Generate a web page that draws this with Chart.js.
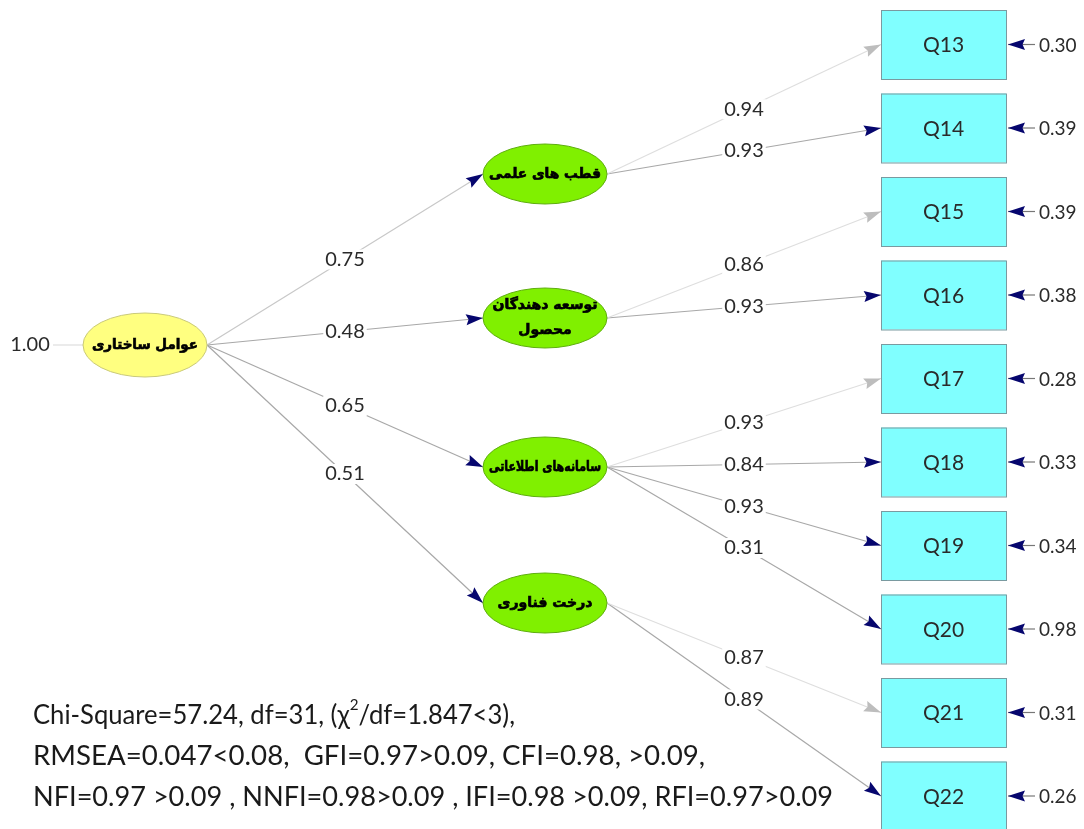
<!DOCTYPE html>
<html lang="fa">
<head>
  <meta charset="UTF-8" />
  <title>Path diagram</title>
  <script src="https://cdn.jsdelivr.net/npm/chart.js"></script>
  <style>
    body { margin: 0; background: #fff; }
    canvas { display: block; }
  </style>
</head>
<body>
  <canvas id="pathChart" width="1084" height="829"></canvas>

  <script>
    // ---- data ----
    const rootName = "عوامل ساختاری";
    const rootVariance = 1.00;
    const factorNames = [["قطب های علمی"], ["توسعه دهندگان", "محصول"], ["سامانه‌های اطلاعاتی"], ["درخت فناوری"]];
    const structuralLoadings = [0.75, 0.48, 0.65, 0.51];
    const indicatorNames = ["Q13", "Q14", "Q15", "Q16", "Q17", "Q18", "Q19", "Q20", "Q21", "Q22"];
    const indicatorFactor = [0, 0, 1, 1, 2, 2, 2, 2, 3, 3];
    const factorLoadings = [0.94, 0.93, 0.86, 0.93, 0.93, 0.84, 0.93, 0.31, 0.87, 0.89];
    const errorVariances = [0.30, 0.39, 0.39, 0.38, 0.28, 0.33, 0.34, 0.98, 0.31, 0.26];
    const fixedLoading = [true, false, true, false, true, false, false, false, true, false];
    const fitLines = [
      "Chi-Square=57.24, df=31, (χ|2|/df=1.847<3),",
      "RMSEA=0.047<0.08,  GFI=0.97>0.09, CFI=0.98, >0.09,",
      "NFI=0.97 >0.09 , NNFI=0.98>0.09 , IFI=0.98 >0.09, RFI=0.97>0.09"
    ];

    // ---- layout (diagram units = pixels of the reference) ----
    const root = { x: 145, y: 345, rx: 62, ry: 32 };
    const factorX = 545, factorRx = 62, factorRy = 30;
    const factorY = [174, 318, 467, 603];
    const boxLeft = 881, boxW = 125, boxH = 69, boxTop = 10, boxStep = 83.5;
    const fitX = 33, fitY = [715, 756, 797], fitW = [482, 672, 800];

    const NAVY = "#06066e";
    const LIGHT = "#dedede";
    const DARK = "#a8a8a8";
    const FONT = "Lato, 'Open Sans', sans-serif";

    const boxCY = i => boxTop + boxStep * i + boxH / 2;

    // path list built from the arrays above
    const paths = [];
    structuralLoadings.forEach((v, k) => {
      paths.push({
        from: { x: root.x + root.rx, y: root.y },
        to: { x: factorX - factorRx, y: factorY[k] },
        value: v, color: k === 0 ? "#c8c8c8" : DARK, head: NAVY
      });
    });
    factorLoadings.forEach((v, i) => {
      const f = indicatorFactor[i];
      paths.push({
        from: { x: factorX + factorRx, y: factorY[f] },
        to: { x: boxLeft, y: boxCY(i) },
        value: v,
        color: fixedLoading[i] ? LIGHT : DARK,
        head: fixedLoading[i] ? "#bdbdbd" : NAVY
      });
    });

    const datasets = paths.map(p => ({
      type: "line",
      data: [p.from, p.to],
      borderColor: p.color,
      borderWidth: 1.2,
      pointRadius: 0,
      showLine: true
    }));
    // variance line of the root factor
    datasets.push({
      type: "line",
      data: [{ x: 53, y: root.y }, { x: root.x - root.rx, y: root.y }],
      borderColor: LIGHT, borderWidth: 1.2, pointRadius: 0, showLine: true
    });
    // error arrows of the indicators
    indicatorNames.forEach((n, i) => {
      datasets.push({
        type: "line",
        data: [{ x: 1035, y: boxCY(i) }, { x: boxLeft + boxW + 2, y: boxCY(i) }],
        borderColor: "#777", borderWidth: 1.2, pointRadius: 0, showLine: true
      });
    });

    function arrowHead(ctx, x1, y1, x2, y2, color) {
      const a = Math.atan2(y2 - y1, x2 - x1);
      const len = 17, half = 5.5;
      ctx.save();
      ctx.translate(x2, y2);
      ctx.rotate(a);
      ctx.beginPath();
      ctx.moveTo(0, 0);
      ctx.lineTo(-len, -half);
      ctx.lineTo(-len + 2.5, 0);
      ctx.lineTo(-len, half);
      ctx.closePath();
      ctx.fillStyle = color;
      ctx.fill();
      ctx.restore();
    }

    function ellipse(ctx, x, y, rx, ry, fill, stroke) {
      ctx.beginPath();
      ctx.ellipse(x, y, rx, ry, 0, 0, Math.PI * 2);
      ctx.fillStyle = fill;
      ctx.fill();
      ctx.lineWidth = 1;
      ctx.strokeStyle = stroke;
      ctx.stroke();
    }

    function persianText(ctx, lines, x, y, maxW) {
      ctx.save();
      ctx.direction = "rtl";
      ctx.font = "bold 14px 'DejaVu Sans'";
      ctx.fillStyle = "#000";
      ctx.strokeStyle = "#000";
      ctx.lineWidth = 0.7;
      ctx.textAlign = "center";
      ctx.textBaseline = "middle";
      const lh = 25;
      lines.forEach((l, k) => {
        const ly = y + (k - (lines.length - 1) / 2) * lh;
        ctx.fillText(l, x, ly, maxW);
        ctx.strokeText(l, x, ly, maxW);
      });
      ctx.restore();
    }

    function label(ctx, text, x, y, size) {
      ctx.save();
      ctx.font = size + "px " + FONT;
      const w = ctx.measureText(text).width;
      ctx.fillStyle = "#fff";
      ctx.fillRect(x - w / 2 - 2, y - size / 2, w + 4, size);
      ctx.fillStyle = "#2a2a2a";
      ctx.textAlign = "center";
      ctx.textBaseline = "middle";
      ctx.fillText(text, x, y);
      ctx.restore();
    }

    function fitText(ctx, line, x, y, width) {
      const parts = line.split("|");
      const big = "27px " + FONT, small = "16px " + FONT;
      let total = 0;
      parts.forEach((p, k) => {
        ctx.font = k === 1 ? small : big;
        total += ctx.measureText(p).width;
      });
      ctx.save();
      ctx.translate(x, y);
      ctx.scale(width / total, 1);
      ctx.fillStyle = "#1a1a1a";
      ctx.textBaseline = "middle";
      let cx = 0;
      parts.forEach((p, k) => {
        ctx.font = k === 1 ? small : big;
        ctx.fillText(p, cx, k === 1 ? -10 : 0);
        cx += ctx.measureText(p).width;
      });
      ctx.restore();
    }

    const diagramPlugin = {
      id: "diagram",
      afterDatasetsDraw(chart) {
        const ctx = chart.ctx;
        const sx = chart.scales.x, sy = chart.scales.y;
        const X = v => sx.getPixelForValue(v), Y = v => sy.getPixelForValue(v);

        // arrow heads on the paths
        paths.forEach(p => arrowHead(ctx, X(p.from.x), Y(p.from.y), X(p.to.x), Y(p.to.y), p.head));
        indicatorNames.forEach((n, i) => arrowHead(ctx, X(1035), Y(boxCY(i)), X(boxLeft + boxW + 2), Y(boxCY(i)), NAVY));

        // root factor
        ellipse(ctx, X(root.x), Y(root.y), root.rx, root.ry, "#ffff80", "#c9c97a");
        persianText(ctx, [rootName], X(root.x), Y(root.y), 2 * root.rx - 18);
        label(ctx, rootVariance.toFixed(2), X(30), Y(root.y), 20);

        // first-order factors
        factorNames.forEach((lines, k) => {
          ellipse(ctx, X(factorX), Y(factorY[k]), factorRx, factorRy, "#80f000", "#5fae10");
          persianText(ctx, lines, X(factorX), Y(factorY[k]), 2 * factorRx - 12);
        });

        // indicators
        indicatorNames.forEach((n, i) => {
          const top = Y(boxTop + boxStep * i);
          ctx.fillStyle = "#80ffff";
          ctx.fillRect(X(boxLeft), top, boxW, boxH);
          ctx.strokeStyle = "#7a9aa0";
          ctx.lineWidth = 1;
          ctx.strokeRect(X(boxLeft) + 0.5, top + 0.5, boxW, boxH);
          ctx.font = "21px " + FONT;
          ctx.fillStyle = "#2a2a2a";
          ctx.textAlign = "center";
          ctx.textBaseline = "middle";
          ctx.fillText(n, X(boxLeft + boxW / 2), Y(boxCY(i)) + 1);
          ctx.textAlign = "left";
          ctx.font = "19px " + FONT;
          ctx.fillText(errorVariances[i].toFixed(2), X(1039), Y(boxCY(i)) + 1);
        });

        // coefficient labels at path midpoints
        paths.forEach(p => {
          label(ctx, p.value.toFixed(2), X((p.from.x + p.to.x) / 2), Y((p.from.y + p.to.y) / 2), 20);
        });

        // fit statistics
        fitLines.forEach((l, k) => fitText(ctx, l, X(fitX), Y(fitY[k]), fitW[k]));
      }
    };

    new Chart(document.getElementById("pathChart"), {
      type: "scatter",
      data: { datasets },
      options: {
        responsive: false,
        animation: false,
        layout: { padding: 0 },
        plugins: { legend: { display: false }, tooltip: { enabled: false } },
        scales: {
          x: { type: "linear", min: 0, max: 1084, display: false },
          y: { type: "linear", min: 0, max: 829, reverse: true, display: false }
        }
      },
      plugins: [diagramPlugin]
    });
  </script>
</body>
</html>
